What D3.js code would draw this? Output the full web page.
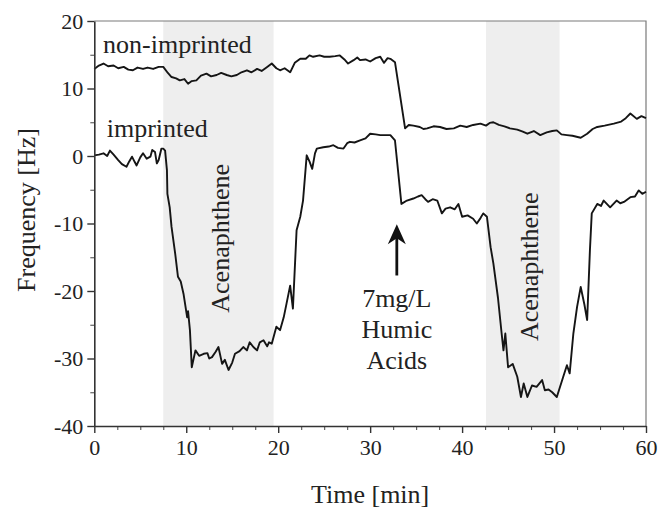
<!DOCTYPE html>
<html><head><meta charset="utf-8">
<script src="https://cdn.jsdelivr.net/npm/d3@7"></script>
<style>html,body{margin:0;padding:0;background:#fff;}svg{display:block;}</style>
</head><body>
<svg id="chart" width="661" height="508"></svg>
<script>
// ---- data ----
const xTicks = [0,10,20,30,40,50,60];
const yTicks = [-40,-30,-20,-10,0,10,20];
const shadedRegions = [[7.5,19.5],[42.6,50.6]];
const nonImprintedT = [0,0.5,1.0,1.5,2.1,2.6,3.2,3.7,4.2,4.7,5.3,5.8,6.4,7.0,7.5,8.0,8.4,8.9,9.3,9.8,10.2,10.6,11.1,11.6,12.2,12.7,13.3,13.8,14.4,14.9,15.5,16.0,16.6,17.1,17.7,18.2,18.8,19.3,19.8,20.2,20.7,21.3,21.8,22.4,23.0,23.4,23.8,24.5,25.0,25.6,26.2,26.7,27.2,27.6,28.2,28.6,28.9,29.5,30.0,30.6,31.1,31.5,31.9,32.2,32.7,33.8,34.2,34.7,35.4,35.8,36.2,36.9,37.6,38.3,39.1,39.8,40.5,41.2,42.0,42.6,43.0,43.4,44.0,44.6,45.2,46.0,46.6,47.1,47.8,48.5,49.2,49.8,50.3,50.8,51.4,52.0,52.9,53.6,54.2,54.7,55.5,56.5,57.3,57.8,58.3,59.0,59.5,60.0];
const nonImprintedV = [12.9,13.4,13.7,13.3,13.4,13.0,13.2,12.8,12.7,13.1,12.9,13.1,12.9,13.2,13.2,12.3,11.7,11.5,11.2,11.4,10.7,11.1,11.2,11.9,12.2,11.8,12.0,12.3,12.0,11.8,12.0,12.4,12.7,12.4,12.9,12.6,13.2,13.7,13.0,12.7,13.0,12.4,13.8,14.4,14.4,14.9,14.7,14.9,14.7,14.7,14.8,14.9,14.3,13.7,14.2,14.6,14.2,14.3,14.0,14.5,14.7,13.8,14.5,14.4,13.9,4.1,4.6,4.5,4.3,4.0,4.1,4.4,4.3,4.0,4.1,4.5,4.3,4.6,4.8,4.5,4.9,5.0,4.6,4.4,4.1,3.9,3.6,3.3,3.7,3.1,3.5,3.7,3.8,3.2,3.1,3.0,2.7,3.3,4.0,4.3,4.5,4.8,5.1,5.6,6.3,5.5,5.9,5.6];
const imprintedT = [0,0.5,1.0,1.4,1.7,2.1,2.6,3.0,3.5,3.8,4.1,4.4,4.6,5.0,5.3,5.7,6.1,6.3,6.6,6.8,7.0,7.3,7.5,7.7,7.9,7.95,8.2,8.4,8.8,9.1,9.4,9.7,10.1,10.2,10.4,10.6,11.0,11.4,11.9,12.3,12.5,12.8,13.2,13.5,13.9,14.2,14.6,15.0,15.3,15.8,16.2,16.6,16.9,17.3,17.7,18.0,18.4,18.8,19.0,19.3,19.8,20.2,20.6,20.9,21.3,21.6,22.0,22.4,22.7,23.1,23.4,23.7,24.0,24.2,24.9,25.5,26.0,26.5,27.1,27.5,27.8,28.3,28.9,29.5,30.0,30.6,31.1,31.7,32.2,32.7,33.4,34.0,34.7,35.2,35.6,36.0,36.3,36.8,37.3,37.8,38.2,38.7,39.2,39.6,40.0,40.6,41.2,41.6,42.0,42.3,42.7,43.1,43.4,43.9,44.3,44.5,44.7,45.0,45.5,46.0,46.4,46.7,47.1,47.6,48.1,48.7,49.0,49.4,49.8,50.3,51.0,51.4,51.7,52.1,52.5,52.9,53.3,53.6,53.9,54.1,54.7,55.1,55.4,56.1,56.8,57.2,57.6,58.3,58.8,59.2,59.6,60.0];
const imprintedV = [0.1,0.2,0.4,0.0,0.8,0.2,-0.6,-1.2,-1.6,-0.8,-0.1,-0.9,-1.4,-0.2,0.4,-0.4,-0.1,0.9,0.6,-1.1,-0.6,1.1,1.1,0.8,-2.1,-5.6,-7.6,-10.5,-14.5,-17.9,-18.6,-20.4,-23.9,-23.0,-25.8,-31.3,-28.8,-29.6,-29.3,-29.2,-30.0,-29.8,-29.0,-28.3,-30.8,-30.2,-31.7,-30.6,-29.3,-28.9,-28.3,-28.8,-27.6,-28.3,-28.8,-27.6,-27.3,-28.2,-27.6,-27.8,-25.3,-25.8,-23.9,-21.9,-19.2,-22.6,-11.0,-9.0,-6.6,0.1,-0.8,-1.9,0.4,1.1,1.3,1.4,1.6,1.2,1.1,1.9,2.1,2.0,2.3,2.6,3.3,3.2,3.1,3.1,3.1,2.3,-7.1,-6.6,-6.3,-6.0,-5.8,-6.4,-6.8,-6.4,-6.6,-8.5,-7.8,-7.6,-7.9,-7.1,-9.0,-8.8,-9.3,-10.0,-9.2,-8.5,-9.0,-13.5,-15.9,-21.0,-26.3,-28.8,-26.3,-31.3,-30.8,-32.7,-35.7,-33.7,-35.7,-34.0,-34.2,-33.2,-34.7,-34.6,-35.0,-35.7,-32.7,-31.0,-32.2,-26.3,-22.4,-19.4,-22.0,-24.3,-14.0,-8.5,-7.1,-7.4,-6.6,-7.6,-6.6,-7.0,-6.8,-6.1,-6.0,-5.1,-5.6,-5.3];

// ---- layout ----
const svg = d3.select("#chart");
const L = 94.3, R = 646, T = 21, B = 426;
const x = d3.scaleLinear().domain([0,60]).range([L,R]);
const y = d3.scaleLinear().domain([-40,20]).range([B,T]);
const FONT = "'Liberation Serif','Times New Roman',serif";

// shaded regions
svg.selectAll("rect.shade").data(shadedRegions).enter().append("rect")
  .attr("x", d => x(d[0])).attr("width", d => x(d[1]) - x(d[0]))
  .attr("y", T).attr("height", B - T).attr("fill", "#eeeeee");

// frame (top/right)
svg.append("path").attr("d", `M${L},${T}H${R}V${B}`).attr("fill","none")
  .attr("stroke","#7a7a7a").attr("stroke-width",1.2);

// curves
const line = d3.line().x(d => x(d[0])).y(d => y(d[1]));
const nonData = nonImprintedT.map((t,i) => [t, nonImprintedV[i]]);
const impData = imprintedT.map((t,i) => [t, imprintedV[i]]);
[nonData, impData].forEach(data => {
  svg.append("path").datum(data).attr("d", line).attr("fill","none")
    .attr("stroke","#151515").attr("stroke-width",1.9).attr("stroke-linejoin","round");
});

// axes
const minorX = d3.range(0, 60.01, 2.5).filter(v => v % 10 !== 0);
const minorY = d3.range(-40, 20.01, 5).filter(v => v % 10 !== 0);
function styleAxis(g){
  g.selectAll(".domain").attr("stroke","#333").attr("stroke-width",1.6);
  g.selectAll(".tick line").attr("stroke","#333").attr("stroke-width",1.4);
  g.selectAll(".tick text").attr("font-family",FONT).attr("font-size",22).attr("fill","#222");
}
svg.append("g").attr("transform",`translate(0,${B})`)
  .call(d3.axisBottom(x).tickValues(minorX).tickSize(4).tickSizeOuter(0).tickFormat(""))
  .call(g => { g.select(".domain").remove(); g.selectAll(".tick line").attr("stroke","#555").attr("stroke-width",1.1); });
svg.append("g").attr("transform",`translate(${L},0)`)
  .call(d3.axisLeft(y).tickValues(minorY).tickSize(4).tickSizeOuter(0).tickFormat(""))
  .call(g => { g.select(".domain").remove(); g.selectAll(".tick line").attr("stroke","#555").attr("stroke-width",1.1); });
svg.append("g").attr("transform",`translate(0,${B})`)
  .call(d3.axisBottom(x).tickValues(xTicks).tickSize(7).tickSizeOuter(0).tickPadding(6).tickFormat(d => String(d)))
  .call(styleAxis);
svg.append("g").attr("transform",`translate(${L},0)`)
  .call(d3.axisLeft(y).tickValues(yTicks).tickSize(7).tickSizeOuter(0).tickPadding(4).tickFormat(d => String(d)))
  .call(styleAxis);

// axis titles
svg.append("text").attr("x", (L+R)/2).attr("y", 503).attr("text-anchor","middle")
  .attr("font-family",FONT).attr("font-size",26).attr("fill","#222").text("Time [min]");
svg.append("text").attr("transform","translate(35,210) rotate(-90)").attr("text-anchor","middle")
  .attr("font-family",FONT).attr("font-size",26).attr("fill","#222").text("Frequency [Hz]");

// annotations
function label(t, v, txt, opts = {}){
  const el = svg.append("text").attr("font-family",FONT).attr("font-size",opts.size || 26)
    .attr("fill","#222").attr("text-anchor",opts.anchor || "start").text(txt);
  if (opts.rotate) el.attr("transform",`translate(${x(t)},${y(v)}) rotate(-90)`);
  else el.attr("x", x(t)).attr("y", y(v));
  return el;
}
label(0.95, 15.2, "non-imprinted");
label(1.35, 2.8, "imprinted");
label(14.65, -12.2, "Acenaphthene", {rotate:true, anchor:"middle"});
label(48.25, -16.4, "Acenaphthene", {rotate:true, anchor:"middle"});
label(32.9, -22.4, "7mg/L", {anchor:"middle"});
label(32.9, -26.9, "Humic", {anchor:"middle"});
label(32.9, -31.5, "Acids", {anchor:"middle"});

// arrow
const ax = x(32.9), ayTop = y(-10.1), ayBot = y(-17.7);
svg.append("line").attr("x1",ax).attr("x2",ax).attr("y1",ayTop+10).attr("y2",ayBot)
  .attr("stroke","#111").attr("stroke-width",2.8);
svg.append("path")
  .attr("d",`M${ax},${ayTop} L${ax-9},${ayTop+20} L${ax},${ayTop+14} L${ax+9},${ayTop+20} Z`)
  .attr("fill","#111");
</script>
</body></html>
